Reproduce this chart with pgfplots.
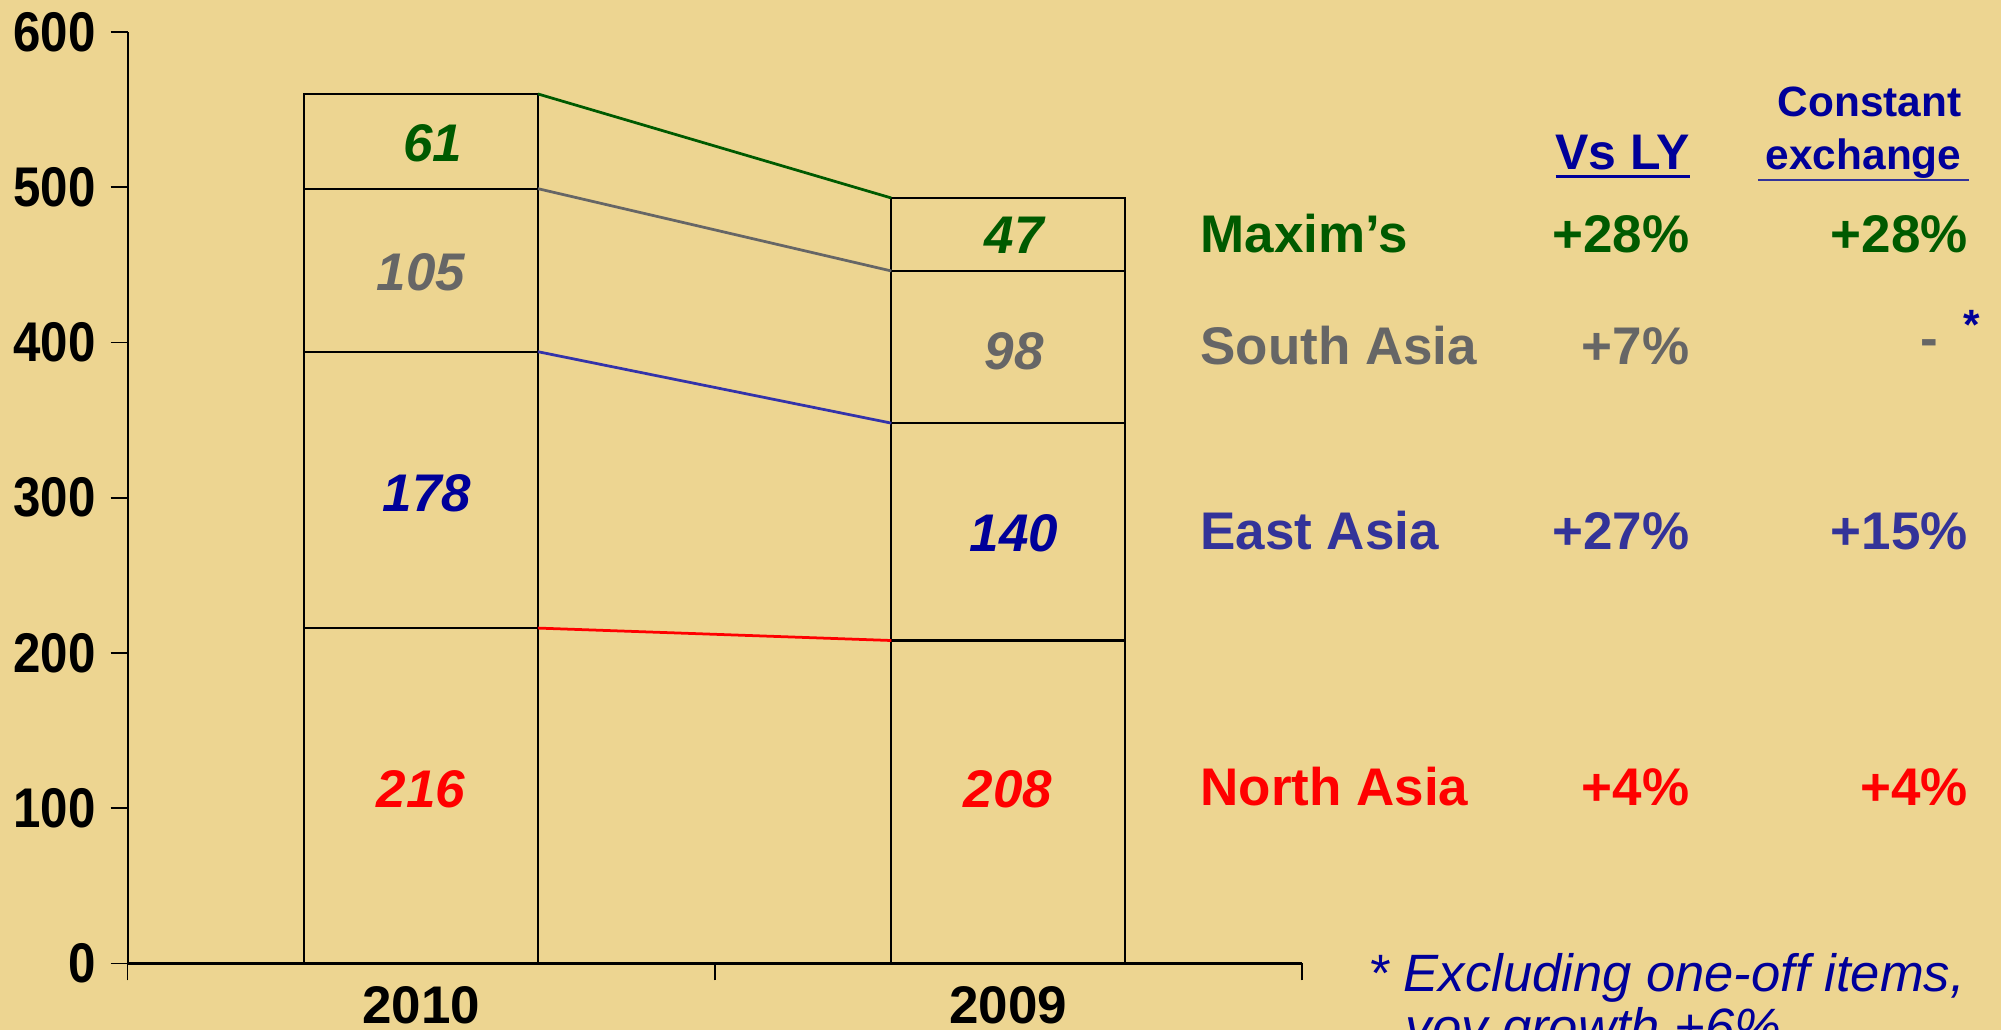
\documentclass[border=0pt]{standalone}
\usepackage{pgfplots}
\pgfplotsset{compat=1.18}
\usepackage{fontspec}
\setmainfont{Liberation Sans}
\newfontfamily\narrowsans[FakeStretch=0.88]{Liberation Sans}

\definecolor{bgcol}{RGB}{237,213,145}
\definecolor{mgreen}{RGB}{0,90,0}
\definecolor{mgray}{RGB}{102,102,102}
\definecolor{mblue}{RGB}{0,0,153}
\definecolor{eblue}{RGB}{51,51,153}
\definecolor{lblue}{RGB}{51,51,170}
\definecolor{mred}{RGB}{255,0,0}

\newcommand{\myfs}[1]{\fontsize{#1}{#1}\selectfont}

\tikzset{
  vlab/.style={font=\myfs{12.5}\bfseries\itshape},
}

\pgfplotsset{
  base/.style={
    scale only axis, width=276bp, height=219bp,
    xmin=-0.5, xmax=1.5, ymin=0, ymax=600,
    clip=false,
  },
}

\begin{document}
\begin{tikzpicture}[x=0.3bp,y=0.3bp]
% axis box starts at the picture origin; page runs from (-100,-52) to (1468,755)
\fill[bgcol] (-100,-52) rectangle (1468,755);
\useasboundingbox (-100,-52) rectangle (1468,755);

% stacked bars
\begin{axis}[base,
  ybar stacked, bar width=54.9bp,
  axis x line*=bottom, axis y line*=left,
  axis line style={-, black, line width=0.5pt},
  tick align=outside, tick pos=left,
  major tick length=4bp,
  major tick style={black, line width=0.4pt},
  ytick={0,100,200,300,400,500,600},
  xtick={-0.5,0.5,1.5}, xticklabels={},
  extra x ticks={0,1}, extra x tick labels={2010,2009},
  extra x tick style={major tick length=0pt},
  xticklabel style={font=\myfs{12.5}\bfseries, yshift=-2bp},
  yticklabel style={font=\narrowsans\myfs{13.2}\bfseries, xshift=0bp},
  /pgf/number format/assume math mode=true,
]
\addplot[fill=bgcol, draw=black, line width=0.5pt] coordinates {(0,216)(1,208)};
\addplot[fill=bgcol, draw=black, line width=0.5pt] coordinates {(0,178)(1,140)};
\addplot[fill=bgcol, draw=black, line width=0.5pt] coordinates {(0,105)(1,98)};
\addplot[fill=bgcol, draw=black, line width=0.5pt] coordinates {(0,61)(1,47)};
\end{axis}

% connecting lines between the bars and value labels
\begin{axis}[base, hide axis]
\addplot[mgreen, line width=0.65pt] coordinates {(0.199,560)(0.801,493)};
\addplot[mgray,  line width=0.65pt] coordinates {(0.199,499)(0.801,446)};
\addplot[lblue,  line width=0.65pt] coordinates {(0.199,394)(0.801,348)};
\addplot[mred,   line width=0.65pt] coordinates {(0.199,216)(0.801,208)};

\node[vlab, text=mgreen] at (axis cs:0.02,528) {61};
\node[vlab, text=mgray]  at (axis cs:0,445) {105};
\node[vlab, text=mblue]  at (axis cs:0.01,303) {178};
\node[vlab, text=mred]   at (axis cs:0,112) {216};
\node[vlab, text=mgreen] at (axis cs:1.01,469) {47};
\node[vlab, text=mgray]  at (axis cs:1.01,394) {98};
\node[vlab, text=mblue]  at (axis cs:1.01,277) {140};
\node[vlab, text=mred]   at (axis cs:1,112) {208};
\end{axis}

% table on the right
\begin{scope}[font=\myfs{10}\bfseries, text=mblue, inner sep=0pt]
\node[anchor=base east, font=\myfs{11.8}\bfseries] at (1224.5,622.5) {Vs LY};
\node[anchor=base east] at (1437.6,663.6) {Constant};
\node[anchor=base east] at (1437.6,622.5) {exchange};
\end{scope}
\draw[mblue, line width=0.65pt] (1119,616.5) -- (1224.5,616.5);
\draw[eblue, line width=0.65pt] (1277.5,614) -- (1443,614);

\begin{scope}[font=\myfs{12.5}\bfseries, inner sep=0pt]
\node[anchor=base west, text=mgreen] at (840,557.4) {Maxim’s};
\node[anchor=base east, text=mgreen] at (1224.5,557.4) {+28\%};
\node[anchor=base east, text=mgreen] at (1442.5,557.4) {+28\%};
\node[anchor=base west, text=mgray] at (840,469) {South Asia};
\node[anchor=base east, text=mgray] at (1224.5,469) {+7\%};
\node[text=mgray] at (1412,482) {-};
\node[anchor=base west, text=eblue] at (840,324) {East Asia};
\node[anchor=base east, text=eblue] at (1224.5,324) {+27\%};
\node[anchor=base east, text=eblue] at (1442.5,324) {+15\%};
\node[anchor=base west, text=mred] at (840,124) {North Asia};
\node[anchor=base east, text=mred] at (1224.5,124) {+4\%};
\node[anchor=base east, text=mred] at (1442.5,124) {+4\%};
\end{scope}
\node[text=mblue, font=\myfs{10}\bfseries] at (1445,500) {*};

% footnote
\begin{scope}[font=\myfs{12.4}\itshape, text=mblue, inner sep=0pt]
\node[anchor=base west] at (972,-22) {* Excluding one-off items,};
\node[anchor=base west] at (1001,-64) {yoy growth +6\%};
\end{scope}
\end{tikzpicture}
\end{document}
